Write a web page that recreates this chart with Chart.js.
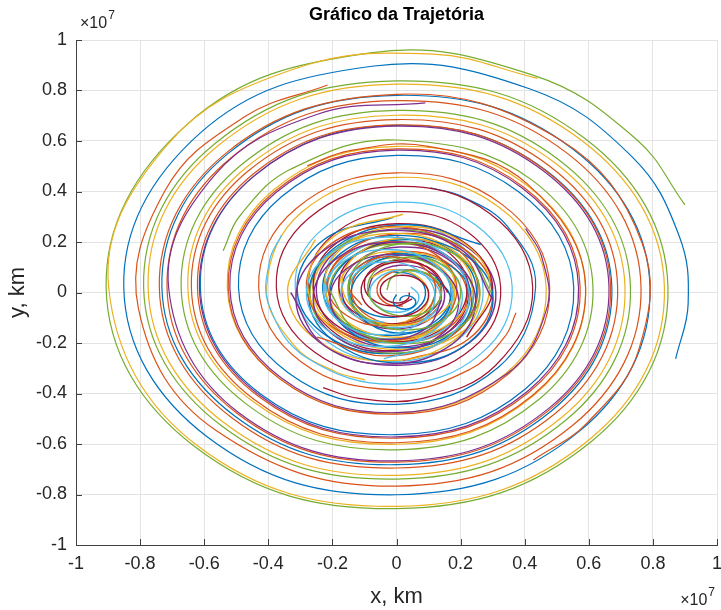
<!DOCTYPE html>
<html>
<head>
<meta charset="utf-8">
<script src="https://cdn.jsdelivr.net/npm/chart.js@4/dist/chart.umd.min.js"></script>
<style>
  html, body { margin: 0; padding: 0; background: #ffffff; }
  #wrap { width: 721px; height: 610px; }
</style>
</head>
<body>
<div id="wrap"><canvas id="c" width="721" height="610"></canvas></div>
<script>
// Positions are in units of 10^7 km.
const titleText = 'Gráfico da Trajetória';
const xAxisLabel = 'x, km';
const yAxisLabel = 'y, km';

const xTickValues = [-1, -0.8, -0.6, -0.4, -0.2, 0, 0.2, 0.4, 0.6, 0.8, 1];
const xTickLabels = ['-1', '-0.8', '-0.6', '-0.4', '-0.2', '0', '0.2', '0.4', '0.6', '0.8', '1'];
const yTickValues = [-1, -0.8, -0.6, -0.4, -0.2, 0, 0.2, 0.4, 0.6, 0.8, 1];
const yTickLabels = ['-1', '-0.8', '-0.6', '-0.4', '-0.2', '0', '0.2', '0.4', '0.6', '0.8', '1'];

// Outer trajectories, [x, y] samples about every eighth of a turn
// (closer together where a trajectory begins or ends)
const outerGreen = [[-0.541,0.165],[-0.489,0.303],[-0.329,0.489],
  [0,0.604],[0.424,0.444],[0.613,0.02],[0.444,-0.424],[0,-0.623],[-0.465,-0.445],
  [-0.672,0.02],[-0.485,0.505],[0,0.721],[0.506,0.526],[0.730,0.02],[0.527,-0.507],[0,-0.739],[-0.547,-0.527],
  [-0.789,0.02],[-0.568,0.588],[0,0.838],[0.589,0.609],[0.847,0.02],[0.609,-0.589],[0,-0.856],[-0.630,-0.610],
  [-0.906,0.02],[-0.650,0.670],[-0.081,0.949],[0.428,0.860],[0.749,0.606],[0.900,0.347]];

const outerYellow = [[-0.098,-0.346],[-0.192,-0.313],[-0.322,-0.206],
  [-0.405,0.02],[-0.297,0.317],[0,0.456],[0.319,0.339],[0.467,0.02],[0.341,-0.321],[0,-0.477],[-0.363,-0.343],
  [-0.528,0.02],[-0.385,0.405],[0,0.579],[0.406,0.426],[0.590,0.02],[0.428,-0.408],[0,-0.601],[-0.450,-0.430],
  [-0.651,0.02],[-0.472,0.492],[0,0.702],[0.494,0.514],[0.713,0.02],[0.515,-0.495],[0,-0.724],[-0.537,-0.517],
  [-0.775,0.02],[-0.559,0.579],[0,0.825],[0.580,0.600],[0.836,0.02],[0.602,-0.582],[0,-0.847],[-0.624,-0.604],
  [-0.898,0.02],[-0.718,0.581],[-0.315,0.887],[0.114,0.944],[0.440,0.848]];

const outerBlue = [[0.106,0.415],[0.207,0.379],[0.346,0.262],
  [0.434,0.02],[0.317,-0.297],[0,-0.443],[-0.338,-0.318],
  [-0.493,0.02],[-0.359,0.379],[0,0.543],[0.380,0.400],[0.553,0.02],[0.402,-0.382],[0,-0.563],[-0.423,-0.403],
  [-0.612,0.02],[-0.443,0.463],[0,0.662],[0.465,0.485],[0.672,0.02],[0.486,-0.466],[0,-0.682],[-0.507,-0.487],
  [-0.732,0.02],[-0.528,0.548],[0,0.781],[0.549,0.569],[0.791,0.02],[0.570,-0.550],[0,-0.801],[-0.591,-0.571],
  [-0.851,0.02],[-0.612,0.632],[-0.077,0.896],[0.417,0.806],[0.736,0.536],[0.882,0.224],[0.910,-0.044],[0.871,-0.263]];

const outerOrange = [[0.373,-0.080],[0.338,-0.175],[0.228,-0.305],
  [0,-0.386],[-0.296,-0.276],
  [-0.430,0.02],[-0.313,0.333],[0,0.474],[0.329,0.349],[0.478,0.02],[0.346,-0.326],[0,-0.482],[-0.363,-0.343],
  [-0.525,0.02],[-0.380,0.400],[0,0.569],[0.397,0.417],[0.573,0.02],[0.414,-0.394],[0,-0.577],[-0.431,-0.411],
  [-0.621,0.02],[-0.448,0.468],[0,0.664],[0.464,0.484],[0.668,0.02],[0.481,-0.461],[0,-0.672],[-0.498,-0.478],
  [-0.716,0.02],[-0.515,0.535],[0,0.760],[0.532,0.552],[0.763,0.02],[0.548,-0.528],[0,-0.767],[-0.565,-0.545],
  [-0.805,-0.065],[-0.722,0.404],[-0.474,0.696],[-0.215,0.822]];

const outerOrange2 = [[-0.279,0.502],[-0.145,0.562],[0.099,0.579],
  [0.409,0.429],[0.590,0.02],[0.426,-0.406],[0,-0.595],[-0.444,-0.424],
  [-0.640,0.02],[-0.462,0.482],[0,0.685],[0.479,0.499],[0.690,0.02],[0.497,-0.477],[0,-0.695],[-0.515,-0.495],
  [-0.740,0.02],[-0.532,0.552],[0,0.785],[0.509,0.606],[0.766,0.197],[0.756,-0.226],[0.595,-0.516],[0.427,-0.663]];

const outerPurple = [[0.403,0.253],[0.453,0.141],[0.469,-0.063],
  [0.343,-0.323],[0,-0.476],[-0.359,-0.339],
  [-0.520,0.02],[-0.376,0.396],[0,0.564],[0.393,0.413],[0.568,0.02],[0.410,-0.390],[0,-0.572],[-0.427,-0.407],
  [-0.615,0.02],[-0.443,0.463],[0,0.659],[0.460,0.480],[0.663,0.02],[0.477,-0.457],[0,-0.667],[-0.494,-0.474],
  [-0.711,0.02],[-0.568,0.464],[-0.249,0.705],[0.090,0.751]];

const midDarkRed = [[0,0.220],[0.150,0.170],[0.225,0.02],[0.168,-0.148],[0,-0.230],[-0.186,-0.166],[-0.275,0.02],[-0.203,0.223],
  [0,0.320],[0.221,0.241],[0.325,0.02],[0.239,-0.219],[0,-0.330],[-0.256,-0.236],[-0.375,0.02],[-0.274,0.294],
  [0,0.420],[0.292,0.312],[0.425,0.02],[0.309,-0.289],[0.078,-0.420],[-0.118,-0.419],[-0.229,-0.377]];

const midLightBlue = [[0.180,0.02],[0.135,-0.115],[0,-0.183],[-0.151,-0.131],[-0.225,0.02],[-0.168,0.188],[0,0.268],[0.183,0.203],
  [0.270,0.02],[0.199,-0.179],[0,-0.273],[-0.215,-0.195],[-0.316,0.02],[-0.231,0.251],[0,0.358],[0.247,0.267],
  [0.361,0.02],[0.263,-0.243],[0,-0.363],[-0.279,-0.259],[-0.398,-0.050],[-0.396,0.126],[-0.359,0.227]];

// Inner, tightly wound trajectories
const innerPurple = [[-0.090,0],[-0.068,0.070],[0.010,0.108],[0.102,0.083],[0.150,0],[0.116,-0.095],[0.010,-0.144],[-0.110,-0.108],
  [-0.170,0],[-0.124,0.121],[0.010,0.180],[0.158,0.134],[0.230,0],[0.173,-0.146],[0.010,-0.216],[-0.167,-0.159],
  [-0.250,0],[-0.181,0.172],[0.010,0.252],[0.215,0.184],[0.310,0],[0.229,-0.197],[0.010,-0.288],[-0.223,-0.210],[-0.330,0]];

const innerBlue = [[-0.010,0.082],[0.054,0.067],[0.090,0.010],[0.068,-0.060],[-0.010,-0.098],[-0.102,-0.073],[-0.150,0.010],[-0.116,0.105],
  [-0.010,0.154],[0.110,0.118],[0.170,0.010],[0.124,-0.111],[-0.010,-0.170],[-0.158,-0.124],[-0.230,0.010],[-0.173,0.156],
  [-0.010,0.226],[0.167,0.169],[0.250,0.010],[0.181,-0.162],[-0.010,-0.242],[-0.215,-0.174],[-0.310,0.010],[-0.229,0.207],[-0.010,0.298]];

const innerGreen = [[0.120,-0.010],[0.090,-0.091],[0,-0.132],[-0.101,-0.101],[-0.150,-0.010],[-0.111,0.090],[0,0.139],[0.122,0.100],
  [0.180,-0.010],[0.133,-0.129],[0,-0.186],[-0.143,-0.139],[-0.210,-0.010],[-0.154,0.128],[0,0.193],[0.164,0.138],
  [0.240,-0.010],[0.175,-0.167],[0,-0.240],[-0.186,-0.177],[-0.270,-0.010],[-0.196,0.166],[0,0.247],[0.207,0.176],[0.300,-0.010]];

const innerOrange = [[0.020,-0.054],[-0.029,-0.045],[-0.060,0],[-0.044,0.057],[0.020,0.090],[0.098,0.070],[0.140,0],[0.112,-0.083],
  [0.020,-0.126],[-0.086,-0.095],[-0.140,0],[-0.100,0.108],[0.020,0.162],[0.154,0.121],[0.220,0],[0.168,-0.134],
  [0.020,-0.198],[-0.143,-0.146],[-0.220,0],[-0.157,0.159],[0.020,0.234],[0.211,0.172],[0.300,0],[0.225,-0.184],[0.020,-0.270]];

const innerYellow = [[-0.084,0.057],[-0.020,0.090],[0.058,0.070],[0.100,0],[0.072,-0.083],[-0.020,-0.126],[-0.126,-0.095],[-0.180,0],
  [-0.140,0.108],[-0.020,0.162],[0.114,0.121],[0.180,0],[0.128,-0.134],[-0.020,-0.198],[-0.183,-0.146],[-0.260,0],
  [-0.197,0.159],[-0.020,0.234],[0.171,0.172],[0.260,0],[0.185,-0.184],[-0.020,-0.270],[-0.239,-0.197],[-0.340,0],[-0.253,0.210]];

const innerDarkRed = [[0.049,-0.025],[0,-0.052],[-0.064,-0.037],[-0.100,0.020],[-0.078,0.090],[0,0.128],[0.092,0.103],[0.140,0.020],
  [0.106,-0.075],[0,-0.124],[-0.120,-0.088],[-0.180,0.020],[-0.134,0.141],[0,0.200],[0.148,0.154],[0.220,0.020],
  [0.163,-0.126],[0,-0.196],[-0.177,-0.139],[-0.260,0.020],[-0.191,0.192],[0,0.272],[0.205,0.204],[0.300,0.020],[0.219,-0.177]];

const innerLightBlue = [[0.045,0.022],[0.069,-0.010],[0.057,-0.053],[0.010,-0.078],[-0.049,-0.063],[-0.083,-0.010],[-0.061,0.054],[0.010,0.089],
  [0.093,0.065],[0.137,-0.010],[0.105,-0.096],[0.010,-0.139],[-0.097,-0.107],[-0.151,-0.010],[-0.109,0.097],[0.010,0.150],
  [0.142,0.108],[0.205,-0.010],[0.154,-0.139],[0.010,-0.200],[-0.146,-0.150],[-0.219,-0.010],[-0.158,0.141],[0.010,0.211],[0.190,0.152]];

const coreBlue2 = [[0.122,0.063],[0.168,-0.020],[0.134,-0.113],[0.030,-0.160],[-0.085,-0.124],[-0.142,-0.020],[-0.097,0.094],[0.030,0.149],
  [0.169,0.105],[0.235,-0.020],[0.181,-0.155],[0.030,-0.219],[-0.133,-0.166],[-0.208,-0.020],[-0.144,0.136],[0.030,0.210],
  [0.216,0.147],[0.301,-0.020],[0.227,-0.197],[0.030,-0.279],[-0.179,-0.208],[-0.274,-0.020],[-0.191,0.179],[0.030,0.269],[0.263,0.190]];

const coreOrange2 = [[-0.108,-0.050],[-0.148,0.020],[-0.120,0.101],[-0.030,0.142],[0.071,0.111],[0.122,0.020],[0.083,-0.082],[-0.030,-0.131],
  [-0.154,-0.092],[-0.215,0.020],[-0.166,0.143],[-0.030,0.201],[0.118,0.154],[0.188,0.020],[0.130,-0.124],[-0.030,-0.192],
  [-0.202,-0.135],[-0.281,0.020],[-0.213,0.185],[-0.030,0.261],[0.165,0.196],[0.254,0.020],[0.177,-0.166],[-0.030,-0.251],[-0.248,-0.177]];

const coreYellow2 = [[0.020,0.165],[0.131,0.130],[0.183,0.030],[0.140,-0.078],[0.020,-0.129],[-0.110,-0.087],[-0.170,0.030],[-0.119,0.155],
  [0.020,0.214],[0.168,0.164],[0.237,0.030],[0.178,-0.112],[0.020,-0.177],[-0.148,-0.121],[-0.224,0.030],[-0.157,0.190],
  [0.020,0.261],[0.207,0.198],[0.291,0.030],[0.216,-0.146],[0.020,-0.226],[-0.186,-0.155],[-0.277,0.030],[-0.195,0.223],[0.020,0.310]];

const corePurple2 = [[0.140,-0.030],[0.098,-0.136],[-0.020,-0.186],[-0.147,-0.144],[-0.207,-0.030],[-0.157,0.093],[-0.020,0.150],[0.126,0.102],
  [0.194,-0.030],[0.136,-0.170],[-0.020,-0.234],[-0.185,-0.179],[-0.260,-0.030],[-0.195,0.127],[-0.020,0.199],[0.165,0.136],
  [0.247,-0.030],[0.174,-0.204],[-0.020,-0.283],[-0.223,-0.213],[-0.314,-0.030],[-0.233,0.161],[-0.020,0.246],[0.202,0.170],[0.301,-0.030]];

const coreGreen2 = [[-0.030,0.010],[-0.015,0.059],[0.040,0.087],[0.105,0.069],[0.140,0.010],[0.116,-0.058],[0.040,-0.094],[-0.047,-0.068],
  [-0.090,0.010],[-0.057,0.097],[0.040,0.141],[0.148,0.107],[0.200,0.010],[0.158,-0.097],[0.040,-0.148],[-0.089,-0.106],
  [-0.150,0.010],[-0.100,0.136],[0.040,0.195],[0.190,0.145],[0.260,0.010],[0.201,-0.135],[0.040,-0.202],[-0.131,-0.144],[-0.210,0.010]];

const coreLightBlue2 = [[-0.040,-0.118],[-0.130,-0.091],[-0.173,-0.010],[-0.139,0.079],[-0.040,0.122],[0.069,0.088],[0.120,-0.010],[0.078,-0.116],
  [-0.040,-0.167],[-0.167,-0.124],[-0.227,-0.010],[-0.177,0.113],[-0.040,0.170],[0.106,0.122],[0.174,-0.010],[0.116,-0.151],
  [-0.040,-0.214],[-0.205,-0.159],[-0.281,-0.010],[-0.215,0.147],[-0.040,0.219],[0.145,0.156],[0.227,-0.010],[0.154,-0.184],[-0.040,-0.263]];

const coreDarkRed2 = [[0.040,0],[0.037,-0.024],[0.010,-0.041],[-0.027,-0.033],[-0.050,0],[-0.038,0.043],[0.010,0.068],[0.068,0.052],
  [0.100,0],[0.079,-0.062],[0.010,-0.095],[-0.070,-0.072],[-0.110,0],[-0.080,0.081],[0.010,0.122],[0.111,0.091],[0.160,0]];

const coreBlue = [[0.010,-0.035],[0.014,-0.021],[0.030,-0.0125],[0.049,-0.018],[0.060,-0.035],[0.053,-0.056],[0.030,-0.0665],[0.003,-0.059],
  [-0.010,-0.035],[0.000,-0.008]];

// MATLAB default colour order
const palette = {
  blue: '#0072BD', orange: '#D95319', yellow: '#EDB120', purple: '#7E2F8E',
  green: '#77AC30', lightBlue: '#4DBEEE', darkRed: '#A2142F'
};

const trajectories = [
  { pts: coreBlue, color: palette.blue, inner: true },
  { pts: coreDarkRed2, color: palette.darkRed, inner: true },
  { pts: coreLightBlue2, color: palette.lightBlue, inner: true },
  { pts: coreGreen2, color: palette.green, inner: true },
  { pts: corePurple2, color: palette.purple, inner: true },
  { pts: coreYellow2, color: palette.yellow, inner: true },
  { pts: coreOrange2, color: palette.orange, inner: true },
  { pts: coreBlue2, color: palette.blue, inner: true },
  { pts: innerLightBlue, color: palette.lightBlue, inner: true },
  { pts: innerDarkRed, color: palette.darkRed, inner: true },
  { pts: innerYellow, color: palette.yellow, inner: true },
  { pts: innerOrange, color: palette.orange, inner: true },
  { pts: innerGreen, color: palette.green, inner: true },
  { pts: innerBlue, color: palette.blue, inner: true },
  { pts: innerPurple, color: palette.purple, inner: true },
  { pts: midLightBlue, color: palette.lightBlue },
  { pts: midDarkRed, color: palette.darkRed },
  { pts: outerPurple, color: palette.purple },
  { pts: outerOrange2, color: palette.orange },
  { pts: outerOrange, color: palette.orange },
  { pts: outerBlue, color: palette.blue },
  { pts: outerYellow, color: palette.yellow },
  { pts: outerGreen, color: palette.green }
];

const FONT = '"Liberation Sans", Arial, Helvetica, sans-serif';

const decor = {
  id: 'decor',
  beforeDraw(chart) {
    const ctx = chart.ctx;
    ctx.save();
    ctx.fillStyle = '#ffffff';
    ctx.fillRect(0, 0, chart.width, chart.height);
    ctx.restore();
  },
  afterDraw(chart) {
    const { ctx, chartArea: a, scales } = chart;
    const xs = scales.x, ys = scales.y;
    ctx.save();
    // inward tick marks on the left and bottom axes
    ctx.strokeStyle = '#404040';
    ctx.lineWidth = 1;
    ctx.beginPath();
    xTickValues.forEach(v => {
      const px = Math.round(xs.getPixelForValue(v)) + 0.5;
      ctx.moveTo(px, a.bottom);
      ctx.lineTo(px, a.bottom - 6);
    });
    yTickValues.forEach(v => {
      const py = Math.round(ys.getPixelForValue(v)) + 0.5;
      ctx.moveTo(a.left, py);
      ctx.lineTo(a.left + 6, py);
    });
    ctx.stroke();

    const cx = (a.left + a.right) / 2;
    // title
    ctx.fillStyle = '#000000';
    ctx.font = 'bold 18px ' + FONT;
    ctx.textAlign = 'center';
    ctx.textBaseline = 'middle';
    ctx.fillText(titleText, cx, 15);

    // axis labels
    ctx.fillStyle = '#262626';
    ctx.font = '22px ' + FONT;
    ctx.fillText(xAxisLabel, cx, 597);
    ctx.save();
    ctx.translate(18, (a.top + a.bottom) / 2);
    ctx.rotate(-Math.PI / 2);
    ctx.fillText(yAxisLabel, 0, 0);
    ctx.restore();

    // exponent markers
    const drawExp = (x, base, alignRight) => {
      ctx.textAlign = 'left';
      ctx.textBaseline = 'alphabetic';
      ctx.font = '16px ' + FONT;
      const w1 = ctx.measureText('\u00d710').width;
      ctx.font = '12px ' + FONT;
      const w2 = ctx.measureText('7').width;
      const x0 = alignRight ? x - (w1 + 1 + w2) : x;
      ctx.font = '16px ' + FONT;
      ctx.fillText('\u00d710', x0, base);
      ctx.font = '12px ' + FONT;
      ctx.fillText('7', x0 + w1 + 1, base - 9);
    };
    drawExp(a.left + 4, 28, false);
    drawExp(715, 605, true);
    ctx.restore();
  }
};

const tickFont = { family: FONT, size: 18 };

new Chart(document.getElementById('c'), {
  type: 'scatter',
  data: {
    datasets: trajectories.map(t => ({
      data: t.pts.map(p => ({ x: p[0], y: p[1] })),
      showLine: true,
      borderColor: t.color,
      backgroundColor: t.color,
      borderWidth: t.inner ? 1.4 : 1.2,
      pointRadius: 0,
      pointHoverRadius: 0,
      tension: 0.4,
      fill: false
    }))
  },
  options: {
    responsive: false,
    animation: false,
    devicePixelRatio: 1,
    layout: { padding: { top: 40, right: 4, bottom: 0, left: 0 } },
    plugins: { legend: { display: false }, tooltip: { enabled: false }, title: { display: false } },
    scales: {
      x: {
        type: 'linear', min: -1, max: 1,
        afterBuildTicks: s => { s.ticks = xTickValues.map(v => ({ value: v })); },
        afterFit: s => { s.height = 65; s.paddingLeft = 0; s.paddingRight = 0; },
        ticks: {
          callback: (v, i) => xTickLabels[i],
          font: tickFont, color: '#262626', padding: 8,
          maxRotation: 0, autoSkip: false
        },
        grid: { color: '#e3e3e3', drawTicks: false, lineWidth: 1 },
        border: { color: '#404040', width: 1 }
      },
      y: {
        type: 'linear', min: -1, max: 1,
        afterBuildTicks: s => { s.ticks = yTickValues.map(v => ({ value: v })); },
        afterFit: s => { s.width = 76; },
        ticks: {
          callback: (v, i) => yTickLabels[i],
          font: tickFont, color: '#262626', padding: 9,
          autoSkip: false
        },
        grid: { color: '#e3e3e3', drawTicks: false, lineWidth: 1 },
        border: { color: '#404040', width: 1 }
      }
    }
  },
  plugins: [decor]
});
</script>
</body>
</html>
